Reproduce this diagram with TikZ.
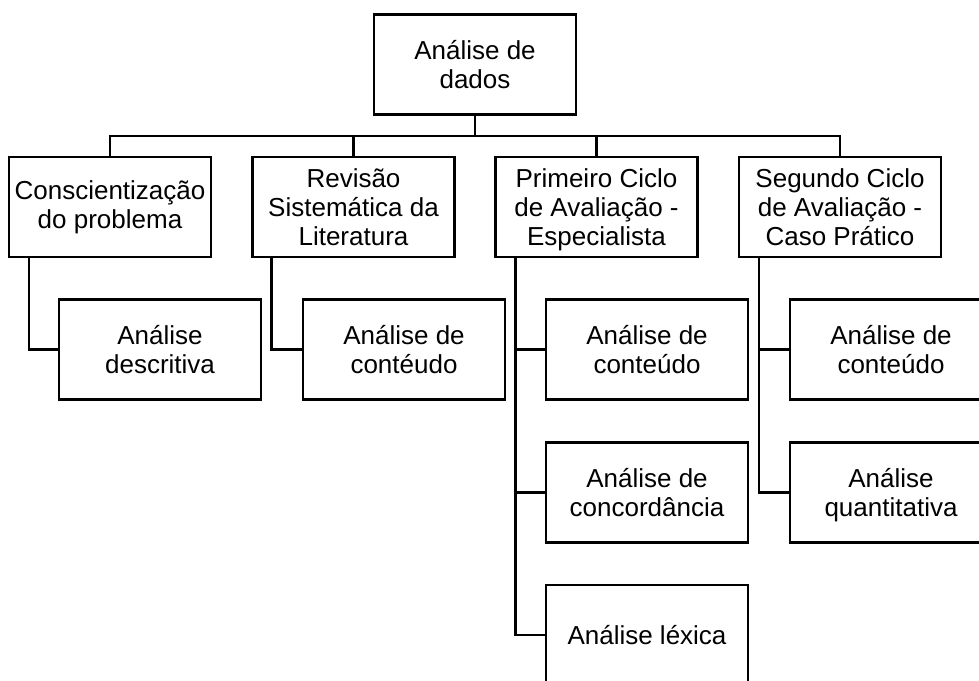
\documentclass[tikz,border=0pt]{standalone}
\usepackage{fontspec}
\setmainfont{Liberation Sans}
\newcommand{\nodepth}[1]{\raisebox{0pt}[\height][0pt]{#1}}
\begin{document}
\begin{tikzpicture}[x=1pt,y=-1pt,
  box/.style={draw=black, line width=2.5pt, minimum width=202pt, minimum height=100pt,
    inner sep=0pt, align=center, font=\fontsize{26}{29}\selectfont},
  link/.style={draw=black, line width=2.5pt, line cap=rect}]
\useasboundingbox (0,0) rectangle (979,680);
\clip (0,0) rectangle (979,680);
\fill[white] (0,0) rectangle (979,680);
% top
\node[box] (top) at (475,64.5) {Análise de\\dados};
% level 1
\node[box] (b1) at (110,207) {Conscientização\\do problema};
\node[box] (b2) at (353.5,207) {Revisão\\Sistemática da\\Literatura};
\node[box] (b3) at (596.5,207) {Primeiro Ciclo\\de Avaliação -\\\nodepth{Especialista}};
\node[box] (b4) at (840,207) {Segundo Ciclo\\de Avaliação -\\Caso Prático};
% children
\node[box] (c1) at (160,349.5) {Análise\\descritiva};
\node[box] (c2) at (404,349.5) {Análise de\\contéudo};
\node[box] (c3a) at (647,349.5) {Análise de\\conteúdo};
\node[box] (c3b) at (647,492.5) {Análise de\\concordância};
\node[box] (c3c) at (647,635) {Análise léxica};
\node[box] (c4a) at (891,349.5) {Análise de\\conteúdo};
\node[box] (c4b) at (891,492.5) {Análise\\\nodepth{quantitativa}};
% bus
\coordinate (bus) at (475,136);
\draw[link] (top.south) -- (bus);
\draw[link] (b1.north) -- (b1.north |- bus) -- (b4.north |- bus) -- (b4.north);
\draw[link] (b2.north) -- (b2.north |- bus);
\draw[link] (b3.north) -- (b3.north |- bus);
% child connectors
\draw[link] ([xshift=21pt]b1.south west) |- (c1.west);
\draw[link] ([xshift=20pt]b2.south west) |- (c2.west);
\draw[link] ([xshift=21pt]b3.south west) |- (c3c.west);
\draw[link] ([xshift=21pt]b3.south west |- c3a.west) -- (c3a.west);
\draw[link] ([xshift=21pt]b3.south west |- c3b.west) -- (c3b.west);
\draw[link] ([xshift=21pt]b4.south west) |- (c4b.west);
\draw[link] ([xshift=21pt]b4.south west |- c4a.west) -- (c4a.west);
\end{tikzpicture}
\end{document}
